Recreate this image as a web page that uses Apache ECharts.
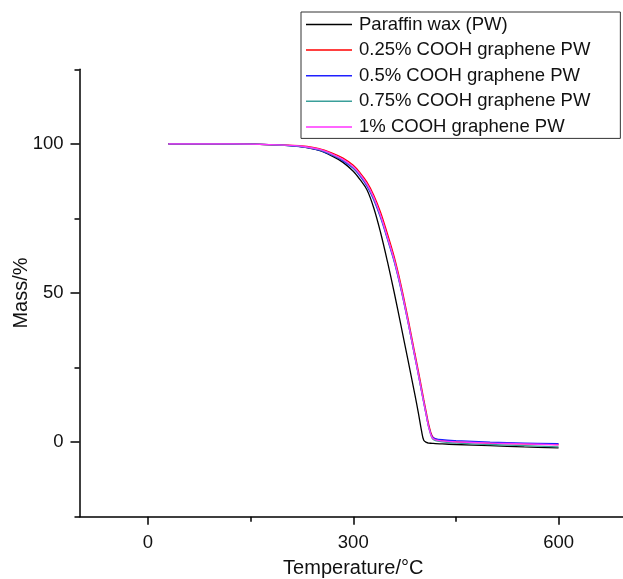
<!DOCTYPE html>
<html>
<head>
<meta charset="utf-8">
<script src="https://cdn.jsdelivr.net/npm/echarts@6/dist/echarts.min.js"></script>
<style>
html,body{margin:0;padding:0;background:#fff;}
#chart{width:623px;height:579px;}
</style>
</head>
<body>
<div id="chart"></div>
<script>
var temperature = [30, 50, 100, 150, 200, 225, 250, 270, 285, 300, 310, 320, 330, 340, 350, 360, 370, 380, 390, 395, 400, 403, 407, 410, 415, 420, 430, 450, 500, 550, 600];
var massPW   = [100, 100, 100, 99.9, 99.5, 99.0, 97.8, 95.8, 93.8, 90.8, 88.0, 84.6, 78.5, 70.2, 60.5, 50.0, 38.8, 27.5, 16.0, 10.0, 3.5, 0.6, -0.1, -0.3, -0.4, -0.5, -0.6, -0.8, -1.2, -1.6, -1.9];
var mass025  = [100, 100, 100, 99.9, 99.6, 99.3, 98.4, 96.8, 95.2, 92.8, 90.3, 87.2, 82.8, 77.0, 69.8, 62.0, 52.5, 41.5, 29.8, 24.0, 18.0, 14.3, 9.6, 6.2, 2.2, 1.0, 0.5, 0.1, -0.3, -0.6, -0.8];
var mass05   = [100, 100, 100, 99.9, 99.5, 99.0, 97.9, 96.1, 94.3, 91.8, 89.2, 85.8, 81.2, 75.2, 68.0, 60.4, 51.0, 40.2, 28.6, 22.8, 16.8, 13.3, 8.7, 5.4, 1.9, 1.2, 0.8, 0.5, 0.0, -0.3, -0.5];
var mass075  = [100, 100, 100, 99.9, 99.5, 99.1, 98.1, 96.3, 94.6, 92.1, 89.6, 86.2, 81.6, 75.6, 68.4, 60.8, 51.3, 40.4, 28.7, 22.9, 16.9, 13.3, 8.6, 5.2, 1.4, 0.5, 0.1, -0.3, -0.8, -1.2, -1.6];
var mass1    = [100, 100, 100, 99.9, 99.6, 99.2, 98.2, 96.5, 94.8, 92.3, 89.8, 86.5, 82.0, 76.0, 68.7, 61.0, 51.5, 40.5, 28.8, 23.0, 17.0, 13.4, 8.7, 5.3, 1.6, 0.8, 0.4, 0.1, -0.3, -0.6, -0.9];

var seriesNames = ['Paraffin wax (PW)', '0.25% COOH graphene PW', '0.5% COOH graphene PW', '0.75% COOH graphene PW', '1% COOH graphene PW'];
var seriesValues = [massPW, mass025, mass05, mass075, mass1];
var seriesColors = ['#000000', '#ff0000', '#2020ff', '#3a9f9a', '#ff33ff'];

var xMajorTicks = [0, 300, 600];
var xMinorTicks = [150, 450];
var yMajorTicks = [0, 50, 100];
var yMinorTicks = [-25, 25, 75, 125];

var FONT = 'Liberation Sans, Arial, sans-serif';

function pairs(xs, ys) {
  var out = [];
  for (var i = 0; i < xs.length; i++) out.push([xs[i], ys[i]]);
  return out;
}

var chart = echarts.init(document.getElementById('chart'), null, {renderer: 'canvas'});

var series = seriesNames.map(function (name, i) {
  return {
    name: name,
    type: 'line',
    xAxisIndex: 0,
    yAxisIndex: 0,
    data: pairs(temperature, seriesValues[i]),
    symbol: 'none',
    smooth: 0.35,
    lineStyle: {color: seriesColors[i], width: 1.3},
    itemStyle: {color: seriesColors[i]},
    animation: false
  };
});

var axisLineStyle = {color: '#000', width: 1.5};

chart.setOption({
  animation: false,
  backgroundColor: '#fff',
  textStyle: {fontFamily: FONT},
  grid: {left: 79.5, top: 69.3, width: 547.5, height: 447.4, containLabel: false, outerBoundsMode: 'none'},
  legend: {
    data: seriesNames,
    orient: 'vertical',
    left: 301,
    top: 12,
    icon: 'rect',
    itemWidth: 46,
    itemHeight: 1.5,
    itemGap: 6.6,
    padding: [3, 30, 2, 5],
    borderColor: '#333',
    borderWidth: 1,
    textStyle: {fontFamily: FONT, fontSize: 18.5, color: '#111', padding: [0, 0, 0, 2]}
  },
  xAxis: [{
    type: 'value',
    min: -100,
    max: 700,
    position: 'bottom',
    name: 'Temperature/\u00b0C',
    nameLocation: 'middle',
    nameGap: 42,
    nameMoveOverlap: false,
    nameTextStyle: {fontFamily: FONT, fontSize: 20, color: '#111'},
    axisLine: {show: true, onZero: false, lineStyle: axisLineStyle},
    axisTick: {show: true, inside: false, length: 8, customValues: xMajorTicks, lineStyle: axisLineStyle},
    axisLabel: {show: true, margin: 17, customValues: xMajorTicks, fontFamily: FONT, fontSize: 18.5, color: '#111'},
    splitLine: {show: false}
  }, {
    type: 'value',
    min: -100,
    max: 700,
    position: 'bottom',
    gridIndex: 0,
    axisLine: {show: false, onZero: false},
    axisTick: {show: true, inside: false, length: 5, customValues: xMinorTicks, lineStyle: axisLineStyle},
    axisLabel: {show: false},
    splitLine: {show: false}
  }],
  yAxis: [{
    type: 'value',
    min: -25,
    max: 125,
    position: 'left',
    name: 'Mass/%',
    nameLocation: 'middle',
    nameGap: 48,
    nameMoveOverlap: false,
    nameTextStyle: {fontFamily: FONT, fontSize: 20, color: '#111'},
    axisLine: {show: true, onZero: false, lineStyle: axisLineStyle},
    axisTick: {show: true, inside: false, length: 9, customValues: yMajorTicks, lineStyle: axisLineStyle},
    axisLabel: {show: true, margin: 16, customValues: yMajorTicks, fontFamily: FONT, fontSize: 18.5, color: '#111'},
    splitLine: {show: false}
  }, {
    type: 'value',
    min: -25,
    max: 125,
    position: 'left',
    gridIndex: 0,
    axisLine: {show: false, onZero: false},
    axisTick: {show: true, inside: false, length: 5, customValues: yMinorTicks, lineStyle: axisLineStyle},
    axisLabel: {show: false},
    splitLine: {show: false}
  }],
  series: series
});
</script>
</body>
</html>
